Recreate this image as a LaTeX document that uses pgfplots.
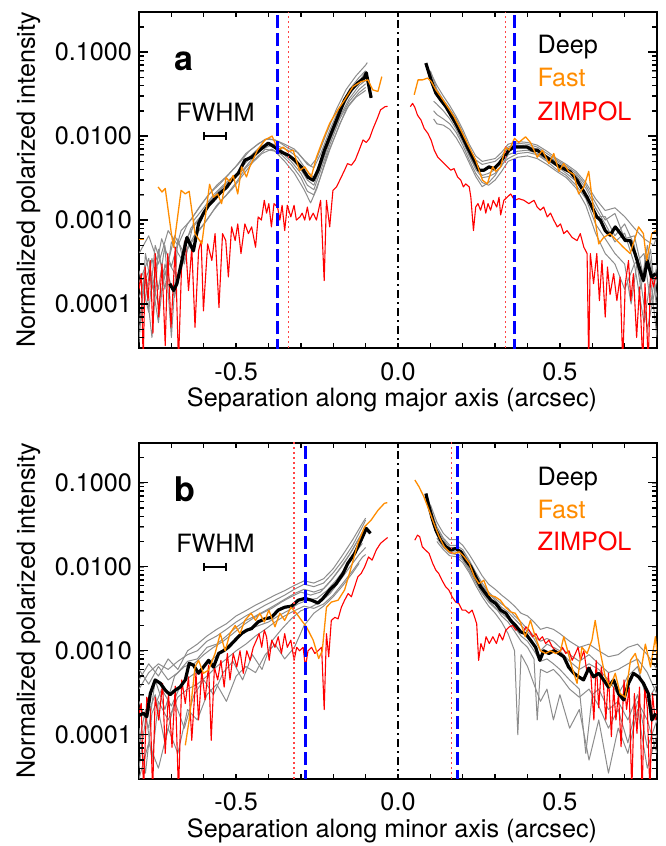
\documentclass[border=0pt]{standalone}
\usepackage{fontspec}
\setmainfont{TeX Gyre Heros}
\usepackage{pgfplots}
\pgfplotsset{compat=1.18}
\definecolor{grayc}{RGB}{140,140,140}
\definecolor{orng}{RGB}{255,140,0}
\definecolor{zred}{RGB}{255,0,0}
\definecolor{dotred}{RGB}{255,70,70}
\definecolor{dblue}{RGB}{0,0,255}
\tikzset{
  txt/.style={inner sep=0pt, anchor=base west, font=\fontsize{12.6}{15}\selectfont},
  gl/.style={grayc, line width=0.5pt, line join=round},
  rl/.style={zred, line width=0.55pt, line join=round},
  ol/.style={orng, line width=0.65pt, line join=round},
  bl/.style={black, line width=1.6pt, line join=round},
  bdash/.style={dblue, line width=1.5pt, dash pattern=on 6.5pt off 2.5pt},
  rdot/.style={dotred, line width=0.7pt, dash pattern=on 1pt off 1.5pt},
  kdd/.style={black, line width=0.6pt, dash pattern=on 4pt off 2pt on 1pt off 2pt},
  tk/.style={black, line width=0.7pt},
}
\newcommand{\manualticks}{%
  \pgfplotsinvokeforeach{-0.7,-0.6,-0.5,-0.4,-0.3,-0.2,-0.1,0,0.1,0.2,0.3,0.4,0.5,0.6,0.7}{%
    \addplot[tk] coordinates {(##1,3e-5)(##1,3.44e-5)};
    \addplot[tk] coordinates {(##1,0.3)(##1,0.2615)};}
  \pgfplotsinvokeforeach{1e-4,1e-3,1e-2,1e-1}{%
    \addplot[tk] coordinates {(-0.8,##1)(-0.7722,##1)};
    \addplot[tk] coordinates {(0.8,##1)(0.7722,##1)};}
  \pgfplotsinvokeforeach{4e-5,5e-5,6e-5,7e-5,8e-5,9e-5,2e-4,3e-4,4e-4,5e-4,6e-4,7e-4,8e-4,9e-4,2e-3,3e-3,4e-3,5e-3,6e-3,7e-3,8e-3,9e-3,2e-2,3e-2,4e-2,5e-2,6e-2,7e-2,8e-2,9e-2,2e-1}{%
    \addplot[tk] coordinates {(-0.8,##1)(-0.7858,##1)};
    \addplot[tk] coordinates {(0.8,##1)(0.7858,##1)};}
}
\begin{document}
\begin{tikzpicture}
\path[use as bounding box] (0,0) rectangle (332.5pt,-423pt);
% ===================== Panel a =====================
\begin{semilogyaxis}[at={(69.5pt,-6pt)}, anchor=north west,
    scale only axis, width=259pt, height=168pt,
    xmin=-0.8, xmax=0.8, ymin=3e-5, ymax=0.3,
    xtick={-0.5,0,0.5},
    xticklabels={{-0.5},{0.0},{0.5}},
    ytick={1e-4,1e-3,1e-2,1e-1},
    yticklabels={{0.0001},{0.0010},{0.0100},{0.1000}},
    tick align=inside,
    major tick length=2.5pt, minor tick length=2.3pt,
    axis line style={line width=0.9pt},
    tick label style={font=\fontsize{12.6}{15}\selectfont},
    xticklabel style={anchor=base, yshift=-16pt},
    ylabel={Normalized polarized intensity},
    ylabel style={at={(axis description cs:-0.2008,0.5)}, anchor=base, font=\fontsize{12.6}{15}\selectfont},
    xlabel={Separation along major axis (arcsec)},
    xlabel style={at={(axis description cs:0.4884,-0.174)}, anchor=base, font=\fontsize{12.6}{15}\selectfont},
  ]
% gray lines left
\addplot[gl] coordinates {(-0.80,4.0e-4)(-0.77,6.5e-4)(-0.74,3.0e-4)(-0.71,7.5e-4)(-0.68,5.0e-4)(-0.65,9.0e-4)(-0.62,1.3e-3)(-0.59,1.9e-3)(-0.56,2.6e-3)(-0.53,3.3e-3)(-0.50,4.4e-3)(-0.47,6.2e-3)(-0.44,7.6e-3)(-0.41,9.2e-3)(-0.38,9.0e-3)(-0.35,8.0e-3)(-0.32,7.0e-3)(-0.29,5.2e-3)(-0.27,4.4e-3)(-0.25,5.5e-3)(-0.22,0.011)(-0.19,0.021)(-0.16,0.036)(-0.13,0.052)(-0.10,0.070)(-0.095,0.075)};
\addplot[gl] coordinates {(-0.80,1.2e-4)(-0.77,2.5e-4)(-0.74,1.0e-4)(-0.71,3.2e-4)(-0.68,2.0e-4)(-0.65,4.5e-4)(-0.62,7.0e-4)(-0.59,1.0e-3)(-0.56,1.5e-3)(-0.53,2.0e-3)(-0.50,2.8e-3)(-0.47,4.2e-3)(-0.44,5.4e-3)(-0.41,7.0e-3)(-0.38,6.6e-3)(-0.35,5.0e-3)(-0.32,3.6e-3)(-0.29,2.3e-3)(-0.27,1.6e-3)(-0.25,2.4e-3)(-0.22,5.8e-3)(-0.19,0.011)(-0.16,0.021)(-0.13,0.029)(-0.10,0.035)};
\addplot[gl] coordinates {(-0.80,6.0e-5)(-0.78,2.0e-4)(-0.76,4.0e-5)(-0.74,4.5e-4)(-0.72,1.5e-4)(-0.70,5.5e-4)(-0.67,3.5e-4)(-0.64,8.0e-4)(-0.61,1.1e-3)(-0.58,1.7e-3)(-0.55,2.3e-3)(-0.52,2.9e-3)(-0.49,3.9e-3)(-0.46,5.6e-3)(-0.43,7.2e-3)(-0.40,8.4e-3)(-0.37,7.6e-3)(-0.34,6.8e-3)(-0.31,5.6e-3)(-0.28,3.8e-3)(-0.26,3.2e-3)(-0.24,5.0e-3)(-0.21,0.0105)(-0.18,0.019)(-0.15,0.031)(-0.12,0.045)(-0.10,0.058)};
\addplot[gl] coordinates {(-0.80,2.5e-4)(-0.77,8.0e-5)(-0.75,5.0e-4)(-0.72,2.2e-4)(-0.69,6.5e-4)(-0.66,4.0e-4)(-0.63,6.5e-4)(-0.60,9.0e-4)(-0.57,1.3e-3)(-0.54,1.8e-3)(-0.51,2.4e-3)(-0.48,3.4e-3)(-0.45,4.8e-3)(-0.42,6.2e-3)(-0.39,7.0e-3)(-0.36,6.0e-3)(-0.33,4.6e-3)(-0.30,3.2e-3)(-0.28,2.2e-3)(-0.26,2.0e-3)(-0.24,3.2e-3)(-0.21,7.0e-3)(-0.18,0.014)(-0.15,0.024)(-0.12,0.033)(-0.10,0.038)};
\addplot[gl] coordinates {(-0.80,3.5e-5)(-0.78,4.0e-4)(-0.76,1.5e-4)(-0.73,6.0e-4)(-0.70,2.8e-4)(-0.67,7.5e-4)(-0.64,1.0e-3)(-0.61,1.5e-3)(-0.58,2.1e-3)(-0.55,2.7e-3)(-0.52,3.6e-3)(-0.49,4.8e-3)(-0.46,6.6e-3)(-0.43,8.2e-3)(-0.40,9.4e-3)(-0.37,8.6e-3)(-0.34,7.2e-3)(-0.31,6.4e-3)(-0.28,4.6e-3)(-0.26,4.2e-3)(-0.24,6.0e-3)(-0.21,0.012)(-0.18,0.022)(-0.15,0.036)(-0.12,0.050)(-0.10,0.060)};
\addplot[gl] coordinates {(-0.80,1.8e-4)(-0.77,3.5e-4)(-0.74,6.0e-5)(-0.72,3.0e-4)(-0.69,1.2e-4)(-0.66,5.5e-4)(-0.63,8.5e-4)(-0.60,1.2e-3)(-0.57,1.7e-3)(-0.54,2.3e-3)(-0.51,3.0e-3)(-0.48,4.4e-3)(-0.45,5.8e-3)(-0.42,7.6e-3)(-0.39,8.0e-3)(-0.36,6.8e-3)(-0.33,5.4e-3)(-0.30,4.0e-3)(-0.28,3.0e-3)(-0.26,2.6e-3)(-0.24,4.2e-3)(-0.21,8.8e-3)(-0.18,0.017)(-0.15,0.028)(-0.12,0.040)(-0.10,0.046)};
\addplot[gl] coordinates {(-0.80,5.0e-5)(-0.78,1.2e-4)(-0.76,3.5e-4)(-0.74,1.5e-4)(-0.72,5.0e-4)(-0.70,4.0e-5)(-0.68,6.0e-4)(-0.66,3.0e-4)(-0.63,1.0e-3)(-0.60,1.4e-3)(-0.57,2.0e-3)(-0.54,2.6e-3)(-0.51,3.3e-3)(-0.48,3.9e-3)(-0.45,5.4e-3)(-0.42,7.0e-3)(-0.39,7.8e-3)(-0.36,6.4e-3)(-0.33,5.0e-3)(-0.30,3.6e-3)(-0.28,2.6e-3)(-0.26,2.3e-3)(-0.24,3.8e-3)(-0.21,8.0e-3)(-0.18,0.016)(-0.15,0.026)(-0.12,0.036)(-0.10,0.042)};
% gray lines right
\addplot[gl] coordinates {(0.10,0.058)(0.12,0.040)(0.14,0.030)(0.16,0.023)(0.18,0.017)(0.20,0.012)(0.22,8.0e-3)(0.24,5.8e-3)(0.26,5.0e-3)(0.28,5.2e-3)(0.30,5.4e-3)(0.32,6.4e-3)(0.34,8.0e-3)(0.37,8.6e-3)(0.40,8.4e-3)(0.43,7.8e-3)(0.46,6.6e-3)(0.49,5.4e-3)(0.52,4.6e-3)(0.55,3.8e-3)(0.58,2.8e-3)(0.61,1.8e-3)(0.64,1.3e-3)(0.67,1.4e-3)(0.70,1.1e-3)(0.73,8.0e-4)(0.76,6.0e-4)(0.79,5.0e-4)(0.80,6.5e-4)};
\addplot[gl] coordinates {(0.11,0.020)(0.12,0.018)(0.14,0.016)(0.16,0.014)(0.18,0.011)(0.20,7.8e-3)(0.22,5.2e-3)(0.24,3.6e-3)(0.26,2.8e-3)(0.28,2.6e-3)(0.30,3.0e-3)(0.32,3.8e-3)(0.34,5.0e-3)(0.37,5.6e-3)(0.40,5.8e-3)(0.43,5.4e-3)(0.46,4.6e-3)(0.49,3.8e-3)(0.52,3.2e-3)(0.55,2.4e-3)(0.58,1.5e-3)(0.61,7.0e-4)(0.64,4.0e-4)(0.67,3.0e-4)(0.70,1.5e-4)(0.73,3.0e-4)(0.76,6.0e-5)(0.78,2.0e-4)(0.80,4.0e-5)};
\addplot[gl] coordinates {(0.10,0.045)(0.12,0.030)(0.14,0.024)(0.16,0.018)(0.18,0.013)(0.20,9.0e-3)(0.22,6.0e-3)(0.24,4.2e-3)(0.26,3.4e-3)(0.28,3.6e-3)(0.30,4.0e-3)(0.32,5.4e-3)(0.34,7.0e-3)(0.37,7.8e-3)(0.40,7.6e-3)(0.43,7.0e-3)(0.46,5.8e-3)(0.49,5.0e-3)(0.52,4.2e-3)(0.55,3.4e-3)(0.58,2.4e-3)(0.61,1.4e-3)(0.64,9.0e-4)(0.67,5.5e-4)(0.70,7.0e-4)(0.73,3.0e-4)(0.76,4.0e-4)(0.78,1.0e-4)(0.80,3.0e-4)};
\addplot[gl] coordinates {(0.11,0.026)(0.12,0.024)(0.14,0.020)(0.16,0.016)(0.18,0.012)(0.20,8.5e-3)(0.22,5.8e-3)(0.24,4.0e-3)(0.26,3.2e-3)(0.28,3.3e-3)(0.30,3.6e-3)(0.32,4.4e-3)(0.34,6.0e-3)(0.37,6.6e-3)(0.40,6.8e-3)(0.43,6.2e-3)(0.46,5.2e-3)(0.49,4.4e-3)(0.52,3.6e-3)(0.55,2.9e-3)(0.58,2.0e-3)(0.61,1.1e-3)(0.64,1.1e-3)(0.67,6.5e-4)(0.70,9.0e-4)(0.73,5.0e-4)(0.75,1.5e-4)(0.77,5.0e-4)(0.80,1.2e-4)};
\addplot[gl] coordinates {(0.10,0.060)(0.12,0.036)(0.14,0.027)(0.16,0.021)(0.18,0.016)(0.20,0.011)(0.22,7.2e-3)(0.24,5.2e-3)(0.26,4.6e-3)(0.28,4.8e-3)(0.30,5.0e-3)(0.32,5.8e-3)(0.34,7.4e-3)(0.37,8.2e-3)(0.40,8.0e-3)(0.43,7.4e-3)(0.46,6.2e-3)(0.49,5.2e-3)(0.52,4.4e-3)(0.55,3.6e-3)(0.58,2.6e-3)(0.61,1.6e-3)(0.64,1.0e-3)(0.67,1.2e-3)(0.70,6.0e-4)(0.73,6.5e-4)(0.76,2.0e-4)(0.78,4.5e-4)(0.80,8.0e-5)};
\addplot[gl] coordinates {(0.11,0.016)(0.12,0.014)(0.14,0.0135)(0.16,0.012)(0.18,0.0095)(0.20,7.0e-3)(0.22,4.8e-3)(0.24,3.3e-3)(0.26,2.5e-3)(0.28,2.8e-3)(0.30,3.4e-3)(0.32,4.6e-3)(0.34,5.4e-3)(0.37,6.2e-3)(0.40,6.4e-3)(0.43,6.0e-3)(0.46,5.0e-3)(0.49,4.0e-3)(0.52,3.4e-3)(0.55,2.6e-3)(0.58,1.8e-3)(0.61,9.0e-4)(0.64,6.0e-4)(0.67,4.0e-4)(0.70,3.0e-4)(0.72,1.0e-4)(0.74,3.5e-4)(0.77,5.0e-5)(0.80,2.0e-4)};
% ZIMPOL
\addplot[rl] coordinates {(-0.800,1.5e-4)(-0.793,2.3e-4)(-0.787,2e-5)(-0.781,2.76e-4)(-0.772,1.1e-4)(-0.765,3.3e-4)(-0.757,4.5e-5)(-0.750,4.0e-4)(-0.739,7.0e-5)(-0.729,3.0e-4)(-0.719,3.2e-5)(-0.711,4.0e-4)(-0.701,5.3e-5)(-0.688,4.75e-4)(-0.678,2e-5)(-0.668,3.3e-4)(-0.657,5.7e-4)(-0.647,1.45e-4)(-0.637,4.75e-4)(-0.627,5.3e-5)(-0.616,4.3e-4)(-0.608,5.7e-4)(-0.601,8.3e-5)(-0.588,5.2e-4)(-0.575,3.3e-4)(-0.565,6.9e-4)(-0.553,9.1e-5)(-0.542,6.9e-4)(-0.532,5.7e-4)(-0.524,2.1e-4)(-0.514,8.3e-4)(-0.503,5.7e-4)(-0.495,9.0e-4)(-0.485,4.0e-4)(-0.473,9.0e-4)(-0.462,6.9e-4)(-0.452,8.3e-4)(-0.440,4.75e-4)(-0.432,1.09e-3)(-0.422,1.0e-3)(-0.413,1.72e-3)(-0.406,1.21e-3)(-0.399,1.57e-3)(-0.391,8.3e-4)(-0.383,1.57e-3)(-0.372,1.43e-3)(-0.365,1.0e-3)(-0.358,1.5e-3)(-0.350,7.5e-4)(-0.342,1.5e-3)(-0.331,1.09e-3)(-0.321,1.5e-3)(-0.314,1.0e-3)(-0.303,1.09e-3)(-0.296,1.21e-3)(-0.288,1.0e-3)(-0.280,1.43e-3)(-0.273,1.0e-3)(-0.262,1.21e-3)(-0.252,1.0e-3)(-0.239,1.72e-3)(-0.228,1.9e-4)(-0.221,1.72e-3)(-0.211,8.3e-4)(-0.201,2.26e-3)(-0.190,2.48e-3)(-0.180,2.98e-3)(-0.165,3.93e-3)(-0.156,4.7e-3)(-0.144,4.5e-3)(-0.132,5.2e-3)(-0.120,6.8e-3)(-0.108,9.0e-3)(-0.098,8.4e-3)(-0.088,9.4e-3)(-0.077,0.0123)(-0.064,0.0162)(-0.054,0.0205)(-0.040,0.0224)(-0.032,0.0226)};
\addplot[rl] coordinates {(0.038,0.0224)(0.045,0.0245)(0.052,0.022)(0.060,0.0178)(0.071,0.0155)(0.081,0.0123)(0.092,0.0108)(0.102,9.0e-3)(0.112,6.8e-3)(0.123,5.6e-3)(0.132,5.17e-3)(0.143,4.7e-3)(0.153,4.3e-3)(0.163,3.93e-3)(0.173,4.1e-3)(0.184,3.26e-3)(0.194,2.98e-3)(0.202,2.48e-3)(0.209,2.7e-3)(0.220,2.48e-3)(0.225,1.87e-3)(0.233,7.5e-4)(0.240,1.43e-3)(0.247,1.57e-3)(0.255,1.31e-3)(0.264,1.72e-3)(0.271,1.21e-3)(0.278,1.57e-3)(0.286,1.31e-3)(0.294,1.72e-3)(0.305,1.43e-3)(0.312,1.87e-3)(0.317,1.15e-3)(0.327,1.72e-3)(0.337,1.87e-3)(0.348,2.05e-3)(0.360,1.72e-3)(0.373,1.8e-3)(0.389,1.72e-3)(0.404,1.57e-3)(0.420,1.72e-3)(0.430,1.43e-3)(0.440,1.31e-3)(0.450,1.43e-3)(0.461,1.09e-3)(0.471,1.21e-3)(0.481,1.0e-3)(0.492,8.3e-4)(0.502,9.0e-4)(0.512,6.9e-4)(0.522,7.5e-4)(0.538,6.2e-4)(0.553,5.7e-4)(0.563,6.9e-4)(0.574,4.75e-4)(0.584,4.0e-4)(0.589,2e-5)(0.594,4.0e-4)(0.604,1.75e-4)(0.614,4.0e-4)(0.622,1.1e-4)(0.630,3.3e-4)(0.640,7.0e-5)(0.647,2.76e-4)(0.655,1.3e-4)(0.666,2.3e-4)(0.676,1.1e-4)(0.686,2.1e-4)(0.694,2e-5)(0.702,1.75e-4)(0.712,3.3e-4)(0.719,1.1e-4)(0.727,2.3e-4)(0.737,4.0e-5)(0.746,1.6e-4)(0.756,2e-5)(0.763,1.75e-4)(0.773,2e-5)(0.780,2.3e-4)(0.789,1.6e-4)(0.796,2.1e-4)};
% Deep
\addplot[bl] coordinates {(-0.705,1.75e-4)(-0.693,1.45e-4)(-0.683,1.75e-4)(-0.652,6.2e-4)(-0.632,4.3e-4)(-0.616,9.1e-4)(-0.601,1.2e-3)(-0.585,1.5e-3)(-0.570,1.72e-3)(-0.551,2.08e-3)(-0.529,2.46e-3)(-0.514,2.98e-3)(-0.493,3.61e-3)(-0.473,5.17e-3)(-0.452,5.61e-3)(-0.427,6.81e-3)(-0.401,8.24e-3)(-0.381,7.39e-3)(-0.360,6.44e-3)(-0.339,5.93e-3)(-0.319,5.17e-3)(-0.298,4.26e-3)(-0.278,3.24e-3)(-0.262,2.98e-3)(-0.247,3.93e-3)(-0.227,6.81e-3)(-0.206,0.0109)(-0.186,0.0169)(-0.165,0.0269)(-0.145,0.0355)(-0.124,0.043)(-0.104,0.0493)(-0.098,0.0567)(-0.083,0.0285)};
\addplot[bl] coordinates {(0.086,0.074)(0.102,0.0467)(0.117,0.0324)(0.132,0.0269)(0.148,0.0224)(0.163,0.0178)(0.178,0.0142)(0.194,0.0108)(0.214,7.45e-3)(0.235,5.17e-3)(0.250,3.93e-3)(0.266,3.93e-3)(0.281,4.3e-3)(0.297,4.1e-3)(0.312,4.7e-3)(0.327,5.6e-3)(0.343,6.8e-3)(0.358,7.4e-3)(0.379,7.4e-3)(0.399,7.4e-3)(0.415,6.8e-3)(0.430,6.8e-3)(0.450,5.9e-3)(0.471,5.17e-3)(0.492,4.5e-3)(0.512,4.1e-3)(0.532,3.75e-3)(0.553,2.98e-3)(0.568,2.38e-3)(0.584,1.87e-3)(0.599,1.43e-3)(0.614,1.09e-3)(0.625,1.0e-3)(0.640,7.5e-4)(0.655,6.6e-4)(0.671,8.3e-4)(0.686,7.0e-4)(0.702,5.7e-4)(0.717,5.7e-4)(0.732,4.0e-4)(0.748,2.5e-4)(0.758,1.9e-4)(0.770,3.3e-4)(0.783,2.1e-4)(0.796,2.3e-4)};
% Fast
\addplot[ol] coordinates {(-0.800,5.9e-4)(-0.786,5.9e-4)};
\addplot[ol] coordinates {(-0.741,2.48e-3)(-0.729,2.16e-3)(-0.719,2.38e-3)(-0.700,6.9e-4)(-0.693,4.75e-4)(-0.670,2.26e-3)(-0.657,2.05e-3)(-0.645,2.2e-3)(-0.627,6.9e-4)(-0.606,5.2e-4)(-0.582,2.67e-3)(-0.570,1.87e-3)(-0.557,2.05e-3)(-0.545,1.57e-3)(-0.531,3.2e-3)(-0.519,2.85e-3)(-0.509,3.4e-3)(-0.495,2.05e-3)(-0.483,4.3e-3)(-0.468,3.26e-3)(-0.458,4.3e-3)(-0.434,6.8e-3)(-0.411,9.0e-3)(-0.389,0.0100)(-0.370,6.8e-3)(-0.355,7.4e-3)(-0.339,6.5e-3)(-0.324,6.8e-3)(-0.304,3.9e-3)(-0.288,4.3e-3)(-0.268,3.26e-3)(-0.252,5.6e-3)(-0.232,9.0e-3)(-0.211,0.0142)(-0.186,0.0205)(-0.165,0.0269)(-0.139,0.0388)(-0.114,0.0445)(-0.093,0.0467)(-0.078,0.0355)(-0.062,0.034)(-0.050,0.051)};
\addplot[ol] coordinates {(0.050,0.031)(0.062,0.0467)(0.076,0.0467)(0.091,0.049)(0.102,0.045)(0.117,0.0355)(0.132,0.0295)(0.153,0.0224)(0.173,0.017)(0.194,0.0118)(0.214,8.2e-3)(0.240,5.17e-3)(0.261,2.98e-3)(0.276,2.7e-3)(0.292,4.3e-3)(0.302,3.8e-3)(0.317,4.3e-3)(0.332,7.4e-3)(0.343,6.8e-3)(0.360,9.4e-3)(0.373,8.4e-3)(0.394,9.8e-3)(0.409,8.4e-3)(0.430,5.6e-3)(0.446,6.8e-3)(0.466,4.7e-3)(0.481,6.2e-3)(0.497,3.8e-3)(0.512,4.7e-3)(0.527,3.8e-3)(0.543,3.5e-3)(0.558,2.05e-3)(0.574,2.48e-3)(0.589,3.8e-3)(0.604,1.31e-3)(0.620,5.2e-4)(0.635,6.2e-4)(0.655,6.9e-4)(0.676,5.7e-4)(0.696,4.75e-4)(0.717,4.0e-4)(0.743,8.3e-4)(0.758,6.9e-4)(0.768,3.3e-4)(0.784,6.9e-4)(0.796,7.5e-4)};
% vertical markers
\addplot[bdash] coordinates {(-0.373,1e-5)(-0.373,1)};
\addplot[bdash] coordinates {(0.360,1e-5)(0.360,1)};
\addplot[rdot] coordinates {(-0.339,1e-5)(-0.339,1)};
\addplot[rdot] coordinates {(0.332,1e-5)(0.332,1)};
\addplot[kdd] coordinates {(0,1e-5)(0,1)};
% FWHM bar
\addplot[black, line width=1pt, mark=|, mark size=2pt, mark options={solid, line width=1pt}] coordinates {(-0.598,0.01)(-0.532,0.01)};
\node[txt, font=\fontsize{17}{20}\selectfont\bfseries] at (axis cs:-0.692,0.060) {a};
\node[txt] at (axis cs:-0.686,0.0148) {FWHM};
\node[txt] at (axis cs:0.43,0.097) {Deep};
\node[txt, text=orng] at (axis cs:0.43,0.0388) {Fast};
\node[txt, text=zred] at (axis cs:0.43,0.0155) {ZIMPOL};
\manualticks
\end{semilogyaxis}
% ===================== Panel b =====================
\begin{semilogyaxis}[at={(69.5pt,-221.35pt)}, anchor=north west,
    scale only axis, width=259pt, height=168pt,
    xmin=-0.8, xmax=0.8, ymin=3e-5, ymax=0.3,
    xtick={-0.5,0,0.5},
    xticklabels={{-0.5},{0.0},{0.5}},
    ytick={1e-4,1e-3,1e-2,1e-1},
    yticklabels={{0.0001},{0.0010},{0.0100},{0.1000}},
    tick align=inside,
    major tick length=2.5pt, minor tick length=2.3pt,
    axis line style={line width=0.9pt},
    tick label style={font=\fontsize{12.6}{15}\selectfont},
    xticklabel style={anchor=base, yshift=-16pt},
    ylabel={Normalized polarized intensity},
    ylabel style={at={(axis description cs:-0.2008,0.5)}, anchor=base, font=\fontsize{12.6}{15}\selectfont},
    xlabel={Separation along minor axis (arcsec)},
    xlabel style={at={(axis description cs:0.4884,-0.174)}, anchor=base, font=\fontsize{12.6}{15}\selectfont},
  ]
% gray lines left
\addplot[gl] coordinates {(-0.80,3.5e-4)(-0.77,5.5e-4)(-0.74,7.0e-4)(-0.71,6.0e-4)(-0.68,7.5e-4)(-0.65,9.0e-4)(-0.62,1.0e-3)(-0.59,1.3e-3)(-0.56,1.5e-3)(-0.53,1.8e-3)(-0.50,2.2e-3)(-0.47,2.6e-3)(-0.44,3.0e-3)(-0.41,3.5e-3)(-0.38,4.0e-3)(-0.35,4.6e-3)(-0.32,5.4e-3)(-0.29,6.2e-3)(-0.26,5.8e-3)(-0.23,6.4e-3)(-0.20,8.5e-3)(-0.17,0.012)(-0.14,0.018)(-0.11,0.030)(-0.10,0.036)};
\addplot[gl] coordinates {(-0.80,8.0e-5)(-0.78,2.0e-4)(-0.76,5.0e-5)(-0.74,2.5e-4)(-0.71,1.5e-4)(-0.68,2.8e-4)(-0.65,3.5e-4)(-0.62,4.0e-4)(-0.59,5.0e-4)(-0.56,6.5e-4)(-0.53,8.0e-4)(-0.50,1.0e-3)(-0.47,1.2e-3)(-0.44,1.5e-3)(-0.41,1.8e-3)(-0.38,2.2e-3)(-0.35,2.6e-3)(-0.32,3.0e-3)(-0.29,3.4e-3)(-0.26,3.2e-3)(-0.23,3.6e-3)(-0.20,4.6e-3)(-0.17,6.4e-3)(-0.14,9.0e-3)(-0.11,0.013)(-0.10,0.014)};
\addplot[gl] coordinates {(-0.80,2.5e-4)(-0.77,1.2e-4)(-0.75,4.5e-4)(-0.72,2.0e-4)(-0.69,5.0e-4)(-0.66,6.5e-4)(-0.63,7.0e-4)(-0.60,9.0e-4)(-0.57,1.1e-3)(-0.54,1.3e-3)(-0.51,1.6e-3)(-0.48,2.0e-3)(-0.45,2.4e-3)(-0.42,2.8e-3)(-0.39,3.2e-3)(-0.36,3.8e-3)(-0.33,4.4e-3)(-0.30,5.0e-3)(-0.27,4.6e-3)(-0.24,5.0e-3)(-0.21,6.6e-3)(-0.18,9.5e-3)(-0.15,0.014)(-0.12,0.022)(-0.10,0.028)};
\addplot[gl] coordinates {(-0.80,4.0e-5)(-0.78,1.5e-4)(-0.75,3.0e-4)(-0.72,8.0e-5)(-0.69,2.5e-4)(-0.66,1.2e-4)(-0.63,3.0e-4)(-0.60,4.5e-4)(-0.57,3.0e-4)(-0.54,5.5e-4)(-0.51,7.5e-4)(-0.48,4.5e-4)(-0.45,9.0e-4)(-0.42,6.0e-4)(-0.39,1.3e-3)(-0.36,1.8e-3)(-0.33,2.4e-3)(-0.30,3.0e-3)(-0.27,3.3e-3)(-0.24,3.8e-3)(-0.21,4.8e-3)(-0.18,6.8e-3)(-0.15,9.8e-3)(-0.12,0.014)(-0.10,0.017)};
\addplot[gl] coordinates {(-0.80,6.0e-4)(-0.77,4.0e-4)(-0.74,6.5e-4)(-0.71,4.5e-4)(-0.68,5.5e-4)(-0.65,7.5e-4)(-0.62,8.0e-4)(-0.59,1.1e-3)(-0.56,1.2e-3)(-0.53,1.5e-3)(-0.50,1.9e-3)(-0.47,2.3e-3)(-0.44,2.6e-3)(-0.41,3.0e-3)(-0.38,3.5e-3)(-0.35,4.1e-3)(-0.32,4.8e-3)(-0.29,5.4e-3)(-0.26,5.0e-3)(-0.23,5.5e-3)(-0.20,7.4e-3)(-0.17,0.0105)(-0.14,0.016)(-0.11,0.026)(-0.10,0.031)};
\addplot[gl] coordinates {(-0.80,1.2e-4)(-0.78,3.5e-5)(-0.76,1.8e-4)(-0.73,3.5e-4)(-0.70,2.2e-4)(-0.67,4.0e-4)(-0.64,5.0e-4)(-0.61,6.0e-4)(-0.58,7.5e-4)(-0.55,9.5e-4)(-0.52,1.2e-3)(-0.49,1.5e-3)(-0.46,1.8e-3)(-0.43,2.0e-3)(-0.40,2.2e-3)(-0.37,2.6e-3)(-0.34,3.0e-3)(-0.31,3.6e-3)(-0.28,4.0e-3)(-0.25,4.2e-3)(-0.22,5.2e-3)(-0.19,7.0e-3)(-0.16,0.010)(-0.13,0.015)(-0.11,0.019)};
\addplot[gl] coordinates {(-0.80,3.0e-5)(-0.77,8.0e-5)(-0.74,4.0e-5)(-0.71,1.2e-4)(-0.68,6.0e-5)(-0.65,2.0e-4)(-0.62,1.5e-4)(-0.59,3.0e-4)(-0.56,4.0e-4)(-0.53,2.5e-4)(-0.50,5.0e-4)(-0.47,6.5e-4)(-0.44,5.5e-4)(-0.41,9.0e-4)(-0.38,1.2e-3)(-0.35,8.0e-4)(-0.32,1.1e-3)(-0.29,2.0e-3)(-0.26,2.8e-3)(-0.23,3.4e-3)(-0.20,4.4e-3)(-0.17,6.0e-3)(-0.14,8.5e-3)(-0.12,0.011)};
\addplot[gl] coordinates {(-0.80,4.5e-4)(-0.77,7.0e-4)(-0.74,5.0e-4)(-0.71,8.0e-4)(-0.68,6.0e-4)(-0.65,1.0e-3)(-0.62,1.2e-3)(-0.59,1.5e-3)(-0.56,1.8e-3)(-0.53,2.1e-3)(-0.50,2.6e-3)(-0.47,3.0e-3)(-0.44,3.5e-3)(-0.41,4.0e-3)(-0.38,4.6e-3)(-0.35,5.2e-3)(-0.32,6.0e-3)(-0.29,6.8e-3)(-0.26,6.4e-3)(-0.23,7.2e-3)(-0.20,9.5e-3)(-0.17,0.014)(-0.14,0.021)(-0.11,0.033)(-0.10,0.038)};
% gray lines right
\addplot[gl] coordinates {(0.10,0.055)(0.12,0.034)(0.14,0.025)(0.16,0.021)(0.18,0.021)(0.20,0.018)(0.22,0.014)(0.24,0.0105)(0.26,7.8e-3)(0.28,6.2e-3)(0.30,5.4e-3)(0.32,4.6e-3)(0.34,4.0e-3)(0.36,3.4e-3)(0.38,2.8e-3)(0.40,2.6e-3)(0.42,2.2e-3)(0.44,1.8e-3)(0.46,1.9e-3)(0.48,1.8e-3)(0.50,1.6e-3)(0.53,1.3e-3)(0.56,1.1e-3)(0.59,1.2e-3)(0.62,1.0e-3)(0.65,8.5e-4)(0.68,9.0e-4)(0.71,1.1e-3)(0.74,1.2e-3)(0.77,9.0e-4)(0.80,6.0e-4)};
\addplot[gl] coordinates {(0.12,0.020)(0.14,0.016)(0.16,0.0135)(0.18,0.0132)(0.20,0.0112)(0.22,8.5e-3)(0.24,6.0e-3)(0.26,4.4e-3)(0.28,3.4e-3)(0.30,2.8e-3)(0.32,2.2e-3)(0.34,1.6e-3)(0.36,1.0e-3)(0.37,1.0e-4)(0.38,9.0e-4)(0.40,6.5e-4)(0.42,4.0e-4)(0.44,2.5e-4)(0.46,3.5e-4)(0.48,1.5e-4)(0.50,3.0e-4)(0.53,1.2e-4)(0.56,2.0e-4)(0.59,5.0e-5)(0.62,1.5e-4)(0.65,3.5e-5)(0.68,1.2e-4)(0.71,6.0e-5)(0.74,2.0e-4)(0.77,4.0e-5)(0.80,1.0e-4)};
\addplot[gl] coordinates {(0.10,0.050)(0.12,0.030)(0.14,0.022)(0.16,0.018)(0.18,0.018)(0.20,0.016)(0.22,0.012)(0.24,8.6e-3)(0.26,6.4e-3)(0.28,5.0e-3)(0.30,4.2e-3)(0.32,3.6e-3)(0.34,3.2e-3)(0.36,2.6e-3)(0.38,2.2e-3)(0.40,1.8e-3)(0.42,1.5e-3)(0.44,1.3e-3)(0.46,1.4e-3)(0.48,1.3e-3)(0.50,1.1e-3)(0.53,9.0e-4)(0.56,7.5e-4)(0.59,9.0e-4)(0.62,7.0e-4)(0.65,5.5e-4)(0.68,6.0e-4)(0.71,7.0e-4)(0.74,8.0e-4)(0.77,5.5e-4)(0.80,3.0e-4)};
\addplot[gl] coordinates {(0.12,0.024)(0.14,0.018)(0.16,0.015)(0.18,0.015)(0.20,0.0125)(0.22,9.5e-3)(0.24,6.8e-3)(0.26,5.0e-3)(0.28,4.0e-3)(0.30,3.3e-3)(0.32,2.6e-3)(0.34,2.2e-3)(0.36,1.7e-3)(0.38,1.3e-3)(0.40,1.1e-3)(0.42,8.0e-4)(0.43,1.5e-4)(0.44,6.0e-4)(0.46,5.5e-4)(0.48,6.0e-4)(0.50,5.0e-4)(0.53,3.5e-4)(0.56,2.8e-4)(0.59,3.5e-4)(0.62,2.2e-4)(0.65,1.2e-4)(0.68,2.0e-4)(0.71,8.0e-5)(0.74,2.5e-4)(0.77,1.5e-4)(0.80,6.0e-5)};
\addplot[gl] coordinates {(0.10,0.040)(0.12,0.028)(0.14,0.021)(0.16,0.017)(0.18,0.017)(0.20,0.015)(0.22,0.0115)(0.24,8.2e-3)(0.26,6.0e-3)(0.28,4.8e-3)(0.30,4.0e-3)(0.32,3.3e-3)(0.34,2.9e-3)(0.36,2.4e-3)(0.38,2.0e-3)(0.40,1.7e-3)(0.42,1.4e-3)(0.44,1.0e-3)(0.46,1.2e-3)(0.48,1.1e-3)(0.50,1.0e-3)(0.53,7.5e-4)(0.56,6.0e-4)(0.59,7.0e-4)(0.62,6.0e-4)(0.65,4.5e-4)(0.68,3.0e-4)(0.71,5.0e-4)(0.74,6.5e-4)(0.77,2.5e-4)(0.80,4.0e-4)};
\addplot[gl] coordinates {(0.12,0.022)(0.14,0.017)(0.16,0.0145)(0.18,0.014)(0.20,0.012)(0.22,9.0e-3)(0.24,6.5e-3)(0.26,4.8e-3)(0.28,3.8e-3)(0.30,3.2e-3)(0.32,2.8e-3)(0.34,2.4e-3)(0.36,1.9e-3)(0.38,1.5e-3)(0.40,1.3e-3)(0.42,1.0e-3)(0.44,7.5e-4)(0.46,8.0e-4)(0.48,7.0e-4)(0.50,6.0e-4)(0.53,4.5e-4)(0.56,3.5e-4)(0.58,6.0e-5)(0.60,3.0e-4)(0.62,3.5e-4)(0.65,2.0e-4)(0.68,2.5e-4)(0.71,1.5e-4)(0.74,3.0e-4)(0.77,7.0e-5)(0.80,1.5e-4)};
% ZIMPOL
\addplot[rl] coordinates {(-0.800,1.8e-4)(-0.793,2.36e-4)(-0.786,2e-5)(-0.776,2.8e-4)(-0.765,2.0e-4)(-0.758,2e-5)(-0.750,2.8e-4)(-0.739,1.5e-4)(-0.727,4.1e-4)(-0.719,6.0e-5)(-0.709,3.1e-4)(-0.698,7.1e-5)(-0.688,3.8e-4)(-0.678,2e-5)(-0.668,4.5e-4)(-0.657,2.36e-4)(-0.647,4.9e-4)(-0.637,8.6e-5)(-0.624,5.4e-4)(-0.616,1.5e-4)(-0.606,5.9e-4)(-0.596,2.6e-4)(-0.585,6.75e-4)(-0.577,8.6e-5)(-0.567,6.4e-4)(-0.557,4.5e-4)(-0.547,7.7e-4)(-0.537,3.7e-4)(-0.527,9.3e-4)(-0.519,4.5e-4)(-0.509,9.3e-4)(-0.498,6.4e-4)(-0.488,1.0e-3)(-0.478,5.4e-4)(-0.467,1.0e-3)(-0.457,7.7e-4)(-0.447,1.1e-3)(-0.437,1.34e-3)(-0.429,1.6e-3)(-0.421,1.1e-3)(-0.413,1.76e-3)(-0.406,1.47e-3)(-0.398,7.7e-4)(-0.390,1.34e-3)(-0.380,1.1e-3)(-0.370,1.47e-3)(-0.360,9.3e-4)(-0.350,1.6e-3)(-0.342,1.1e-3)(-0.331,1.34e-3)(-0.321,7.7e-4)(-0.313,1.1e-3)(-0.304,1.0e-3)(-0.293,1.1e-3)(-0.286,6.4e-4)(-0.278,1.0e-3)(-0.267,1.1e-3)(-0.257,9.3e-4)(-0.247,1.0e-3)(-0.236,1.1e-3)(-0.228,2.0e-4)(-0.221,1.6e-3)(-0.214,8.5e-4)(-0.206,2.3e-3)(-0.195,2.5e-3)(-0.185,2.4e-3)(-0.175,3.3e-3)(-0.165,4.0e-3)(-0.154,4.8e-3)(-0.144,4.4e-3)(-0.134,5.8e-3)(-0.124,7.6e-3)(-0.114,8.3e-3)(-0.103,0.010)(-0.091,0.0131)(-0.080,0.012)(-0.067,0.0159)(-0.054,0.019)(-0.042,0.0208)(-0.032,0.0223)};
\addplot[rl] coordinates {(0.052,0.0207)(0.060,0.0238)(0.067,0.0228)(0.075,0.0173)(0.085,0.0158)(0.096,0.0144)(0.107,0.011)(0.117,9.1e-3)(0.126,8.3e-3)(0.136,6.9e-3)(0.147,5.8e-3)(0.157,5.3e-3)(0.167,4.4e-3)(0.178,3.8e-3)(0.188,3.65e-3)(0.198,3.05e-3)(0.208,3.05e-3)(0.219,2.8e-3)(0.229,3.05e-3)(0.236,2.55e-3)(0.243,2.1e-3)(0.249,7.7e-4)(0.256,1.22e-3)(0.264,1.0e-3)(0.272,1.47e-3)(0.282,1.22e-3)(0.293,1.47e-3)(0.304,1.22e-3)(0.313,1.6e-3)(0.323,1.34e-3)(0.333,1.76e-3)(0.344,1.93e-3)(0.354,2.0e-3)(0.364,1.76e-3)(0.374,1.84e-3)(0.384,1.6e-3)(0.395,1.93e-3)(0.405,1.76e-3)(0.416,1.47e-3)(0.426,1.6e-3)(0.436,1.34e-3)(0.446,1.47e-3)(0.456,1.22e-3)(0.466,1.34e-3)(0.477,1.1e-3)(0.487,1.0e-3)(0.497,9.3e-4)(0.508,1.1e-3)(0.518,9.3e-4)(0.528,1.0e-3)(0.538,7.7e-4)(0.548,9.3e-4)(0.556,1.1e-3)(0.564,7.7e-4)(0.574,1.0e-3)(0.584,5.4e-4)(0.594,6.4e-4)(0.605,1.5e-4)(0.612,7.7e-4)(0.620,2.1e-4)(0.628,6.4e-4)(0.635,3.7e-4)(0.642,1.5e-4)(0.650,5.4e-4)(0.659,9.5e-5)(0.666,3.7e-4)(0.673,1.5e-4)(0.681,3.1e-4)(0.689,7.2e-5)(0.698,4.5e-4)(0.706,2.0e-4)(0.714,3.7e-4)(0.722,2e-5)(0.730,3.1e-4)(0.738,1.04e-4)(0.746,3.7e-4)(0.754,2e-5)(0.762,3.7e-4)(0.770,2.1e-4)(0.778,2e-5)(0.786,3.1e-4)(0.794,1.5e-4)(0.802,2.1e-4)};
% Deep
\addplot[bl] coordinates {(-0.800,1.7e-4)(-0.786,1.8e-4)(-0.776,1.64e-4)(-0.765,3.1e-4)(-0.750,4.5e-4)(-0.734,4.1e-4)(-0.719,3.4e-4)(-0.704,3.0e-4)(-0.688,3.4e-4)(-0.673,3.7e-4)(-0.657,4.5e-4)(-0.645,7.1e-4)(-0.632,6.75e-4)(-0.616,5.4e-4)(-0.601,6.4e-4)(-0.585,7.7e-4)(-0.570,6.4e-4)(-0.554,9.3e-4)(-0.539,1.0e-3)(-0.524,1.1e-3)(-0.503,1.34e-3)(-0.483,1.61e-3)(-0.467,1.76e-3)(-0.452,1.84e-3)(-0.432,2.21e-3)(-0.411,2.4e-3)(-0.391,2.5e-3)(-0.370,3.05e-3)(-0.350,3.3e-3)(-0.329,3.4e-3)(-0.308,4.0e-3)(-0.288,4.2e-3)(-0.267,4.0e-3)(-0.247,3.7e-3)(-0.232,4.2e-3)(-0.211,5.3e-3)(-0.191,6.3e-3)(-0.170,8.3e-3)(-0.155,0.011)(-0.134,0.0144)(-0.114,0.0208)(-0.098,0.0286)(-0.085,0.025)};
\addplot[bl] coordinates {(0.086,0.0746)(0.096,0.0518)(0.107,0.036)(0.117,0.0273)(0.132,0.0207)(0.148,0.0173)(0.163,0.0158)(0.178,0.0165)(0.194,0.0151)(0.209,0.012)(0.225,0.010)(0.240,7.6e-3)(0.255,5.8e-3)(0.271,4.8e-3)(0.287,4.0e-3)(0.302,3.65e-3)(0.317,3.05e-3)(0.333,2.8e-3)(0.348,2.3e-3)(0.363,2.0e-3)(0.379,1.68e-3)(0.394,1.6e-3)(0.409,1.34e-3)(0.425,1.1e-3)(0.438,7.7e-4)(0.450,1.0e-3)(0.466,9.3e-4)(0.481,1.0e-3)(0.497,9.3e-4)(0.512,8.5e-4)(0.527,6.4e-4)(0.543,5.4e-4)(0.558,4.9e-4)(0.573,4.5e-4)(0.589,6.2e-4)(0.604,4.9e-4)(0.620,5.4e-4)(0.635,4.5e-4)(0.650,3.7e-4)(0.666,4.5e-4)(0.681,3.1e-4)(0.697,2.6e-4)(0.712,4.1e-4)(0.727,5.4e-4)(0.743,4.9e-4)(0.758,4.1e-4)(0.773,3.1e-4)(0.784,1.5e-4)(0.796,1.8e-4)};
% Fast
\addplot[ol] coordinates {(-0.657,7.5e-5)(-0.645,1.5e-4)(-0.637,2.8e-4)(-0.627,6.4e-4)(-0.616,7.7e-4)(-0.601,5.4e-4)(-0.585,5.9e-4)(-0.565,9.3e-4)(-0.549,1.6e-3)(-0.534,1.0e-3)(-0.519,1.6e-3)(-0.503,2.0e-3)(-0.488,1.6e-3)(-0.473,2.3e-3)(-0.454,2.8e-3)(-0.440,2.3e-3)(-0.427,2.8e-3)(-0.413,2.2e-3)(-0.399,3.05e-3)(-0.380,1.93e-3)(-0.365,2.8e-3)(-0.350,2.3e-3)(-0.331,3.3e-3)(-0.314,2.8e-3)(-0.298,2.3e-3)(-0.283,1.93e-3)(-0.262,1.34e-3)(-0.245,8.1e-4)(-0.234,1.0e-3)(-0.221,3.3e-3)(-0.206,3.8e-3)(-0.185,4.0e-3)(-0.165,5.3e-3)(-0.144,0.010)(-0.124,0.019)(-0.103,0.030)(-0.083,0.036)(-0.062,0.047)(-0.042,0.057)(-0.033,0.058)};
\addplot[ol] coordinates {(0.052,0.108)(0.065,0.0896)(0.080,0.068)(0.096,0.047)(0.111,0.0328)(0.127,0.0228)(0.143,0.0173)(0.158,0.0151)(0.174,0.0144)(0.189,0.0151)(0.205,0.0131)(0.220,0.011)(0.236,7.6e-3)(0.250,6.3e-3)(0.265,6.9e-3)(0.282,4.6e-3)(0.300,4.4e-3)(0.316,4.0e-3)(0.332,3.3e-3)(0.348,2.9e-3)(0.362,2.8e-3)(0.378,2.2e-3)(0.393,1.47e-3)(0.409,2.3e-3)(0.424,1.47e-3)(0.440,1.0e-3)(0.456,9.3e-4)(0.471,1.0e-3)(0.487,9.3e-4)(0.502,1.0e-3)(0.512,1.47e-3)(0.524,1.0e-3)(0.537,6.4e-4)(0.553,4.1e-4)(0.568,1.1e-3)(0.584,9.3e-4)(0.599,1.34e-3)(0.609,2.3e-3)(0.624,1.0e-3)(0.640,4.9e-4)(0.655,3.7e-4)(0.671,5.4e-4)(0.686,3.1e-4)(0.702,2.8e-4)(0.718,7.7e-4)(0.733,9.3e-4)(0.749,5.4e-4)(0.764,1.2e-3)(0.780,6.4e-4)(0.795,1.47e-3)(0.803,7.0e-4)};
% vertical markers
\addplot[bdash] coordinates {(-0.285,1e-5)(-0.285,1)};
\addplot[bdash] coordinates {(0.184,1e-5)(0.184,1)};
\addplot[rdot] coordinates {(-0.321,1e-5)(-0.321,1)};
\addplot[rdot] coordinates {(0.166,1e-5)(0.166,1)};
\addplot[kdd] coordinates {(0,1e-5)(0,1)};
% FWHM bar
\addplot[black, line width=1pt, mark=|, mark size=2pt, mark options={solid, line width=1pt}] coordinates {(-0.598,0.01)(-0.532,0.01)};
\node[txt, font=\fontsize{17}{20}\selectfont\bfseries] at (axis cs:-0.692,0.0605) {b};
\node[txt] at (axis cs:-0.686,0.0148) {FWHM};
\node[txt] at (axis cs:0.43,0.094) {Deep};
\node[txt, text=orng] at (axis cs:0.43,0.0376) {Fast};
\node[txt, text=zred] at (axis cs:0.43,0.0158) {ZIMPOL};
\manualticks
\end{semilogyaxis}
\end{tikzpicture}
\end{document}
